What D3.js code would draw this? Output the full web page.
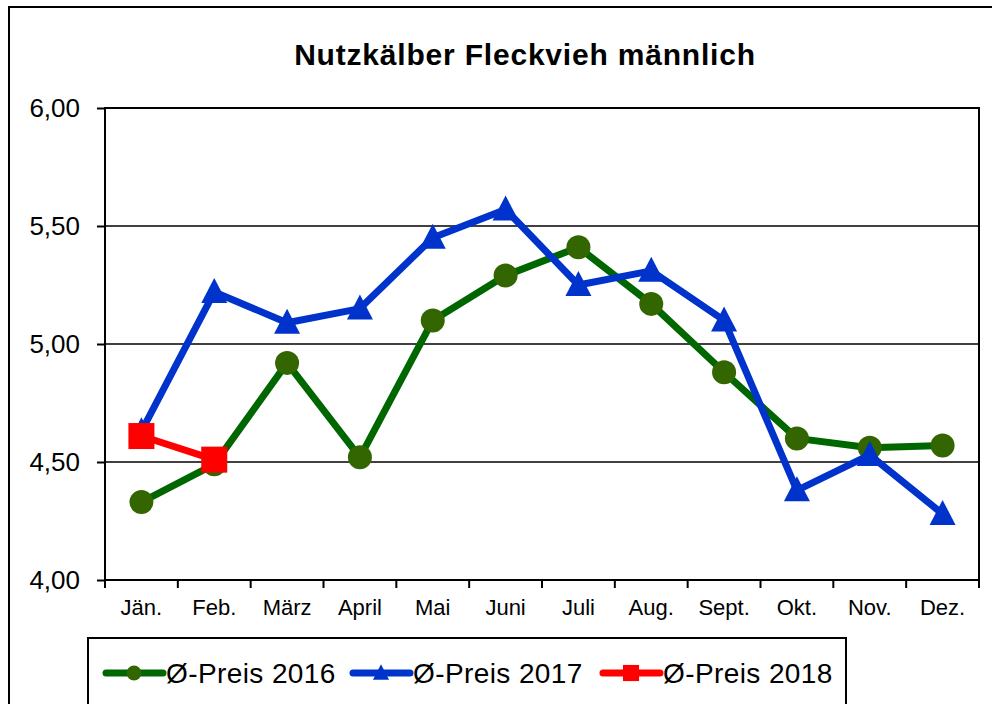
<!DOCTYPE html>
<html>
<head>
<meta charset="utf-8">
<script src="https://cdn.jsdelivr.net/npm/d3@7"></script>
<style>
  body { margin: 0; background: #fff; }
  svg { display: block; font-family: "Liberation Sans", Arial, sans-serif; }
</style>
</head>
<body>
<svg id="chart" width="992" height="704"></svg>
<script>
// Monate und Durchschnittspreise
const months = ["Jän.", "Feb.", "März", "April", "Mai", "Juni", "Juli", "Aug.", "Sept.", "Okt.", "Nov.", "Dez."];
const preis2016 = [4.33, 4.49, 4.92, 4.52, 5.10, 5.29, 5.41, 5.17, 4.88, 4.60, 4.56, 4.57];
const preis2017 = [4.63, 5.22, 5.09, 5.15, 5.45, 5.57, 5.25, 5.31, 5.10, 4.38, 4.53, 4.28];
const preis2018 = [4.61, 4.51];
const yTicks = [4.0, 4.5, 5.0, 5.5, 6.0];

const series = [
    { name: "Ø-Preis 2016", values: preis2016, line: "#006600", fill: "#336600", marker: "circle" },
    { name: "Ø-Preis 2017", values: preis2017, line: "#0033CC", fill: "#0033CC", marker: "triangle" },
    { name: "Ø-Preis 2018", values: preis2018, line: "#FF0000", fill: "#FF0000", marker: "square" }
];

const svg = d3.select("#chart");
const plot = { left: 105, right: 979, top: 108, bottom: 580 };

// äußerer Rahmen
svg.append("rect")
    .attr("x", 9).attr("y", 7)
    .attr("width", 1000).attr("height", 720)
    .attr("fill", "none").attr("stroke", "#000").attr("stroke-width", 2);

svg.append("text")
    .attr("x", 525).attr("y", 65)
    .attr("text-anchor", "middle")
    .style("font-size", "30px").style("font-weight", "bold")
    .style("letter-spacing", "0.8px")
    .text("Nutzkälber Fleckvieh männlich");

const x = d3.scaleBand().domain(months).range([plot.left, plot.right]);
const y = d3.scaleLinear().domain([4, 6]).range([plot.bottom, plot.top]);

// Gitterlinien
svg.append("g").selectAll("line")
    .data(yTicks.slice(1, -1))
    .enter().append("line")
    .attr("x1", plot.left).attr("x2", plot.right)
    .attr("y1", d => y(d)).attr("y2", d => y(d))
    .attr("stroke", "#000").attr("stroke-width", 1.5);

// Plotrahmen
svg.append("rect")
    .attr("x", plot.left).attr("y", plot.top)
    .attr("width", plot.right - plot.left).attr("height", plot.bottom - plot.top)
    .attr("fill", "none").attr("stroke", "#000").attr("stroke-width", 2);

// y-Achse
const yAxis = svg.append("g")
    .attr("transform", `translate(${plot.left},0)`)
    .call(d3.axisLeft(y).tickValues(yTicks).tickSize(8).tickPadding(17)
        .tickFormat(d => d3.format(".2f")(d).replace(".", ",")));
yAxis.select(".domain").remove();
yAxis.selectAll("line").attr("stroke", "#000").attr("stroke-width", 2);
yAxis.selectAll("text").style("font-size", "26px").attr("fill", "#000")
    .attr("font-family", "Liberation Sans, Arial, sans-serif");

// x-Achse: Striche an den Kategoriegrenzen
const bounds = months.map(m => x(m)).concat([plot.right]);
svg.append("g").selectAll("line")
    .data(bounds)
    .enter().append("line")
    .attr("x1", d => d).attr("x2", d => d)
    .attr("y1", plot.bottom).attr("y2", plot.bottom + 8)
    .attr("stroke", "#000").attr("stroke-width", 2);

svg.append("g").selectAll("text")
    .data(months)
    .enter().append("text")
    .attr("x", d => x(d) + x.bandwidth() / 2)
    .attr("y", 615)
    .attr("text-anchor", "middle")
    .style("font-size", "22px")
    .text(d => d);

const cx = (d, i) => x(months[i]) + x.bandwidth() / 2;

const line = d3.line().x(cx).y(d => y(d));

function drawMarker(g, type, color) {
    if (type === "circle") {
        g.append("circle").attr("r", 12).attr("fill", color);
    } else if (type === "triangle") {
        g.append("path").attr("d", "M0,-14 L13,11 L-13,11 Z").attr("fill", color);
    } else {
        g.append("rect").attr("x", -13).attr("y", -13).attr("width", 26).attr("height", 26).attr("fill", color);
    }
}

series.forEach(s => {
    svg.append("path")
        .datum(s.values)
        .attr("d", line)
        .attr("fill", "none")
        .attr("stroke", s.line)
        .attr("stroke-width", 7)
        .attr("stroke-linejoin", "round");

    svg.append("g").selectAll("g")
        .data(s.values)
        .enter().append("g")
        .attr("transform", (d, i) => `translate(${cx(d, i)},${y(d)})`)
        .each(function () { drawMarker(d3.select(this), s.marker, s.fill); });
});

// Legende
svg.append("rect")
    .attr("x", 88).attr("y", 638)
    .attr("width", 758).attr("height", 100)
    .attr("fill", "#fff").attr("stroke", "#000").attr("stroke-width", 2);

const legendX = [106, 353, 603];
series.forEach((s, i) => {
    const g = svg.append("g").attr("transform", `translate(${legendX[i]},673)`);
    g.append("line")
        .attr("x1", 0).attr("x2", 57)
        .attr("stroke", s.line).attr("stroke-width", 7)
        .attr("stroke-linecap", "round");
    const m = g.append("g").attr("transform", "translate(28,0) scale(0.62)");
    drawMarker(m, s.marker, s.fill);
    g.append("text")
        .attr("x", 60).attr("y", 10)
        .style("font-size", "28px")
        .style("letter-spacing", "0.4px")
        .text(s.name);
});
</script>
</body>
</html>
